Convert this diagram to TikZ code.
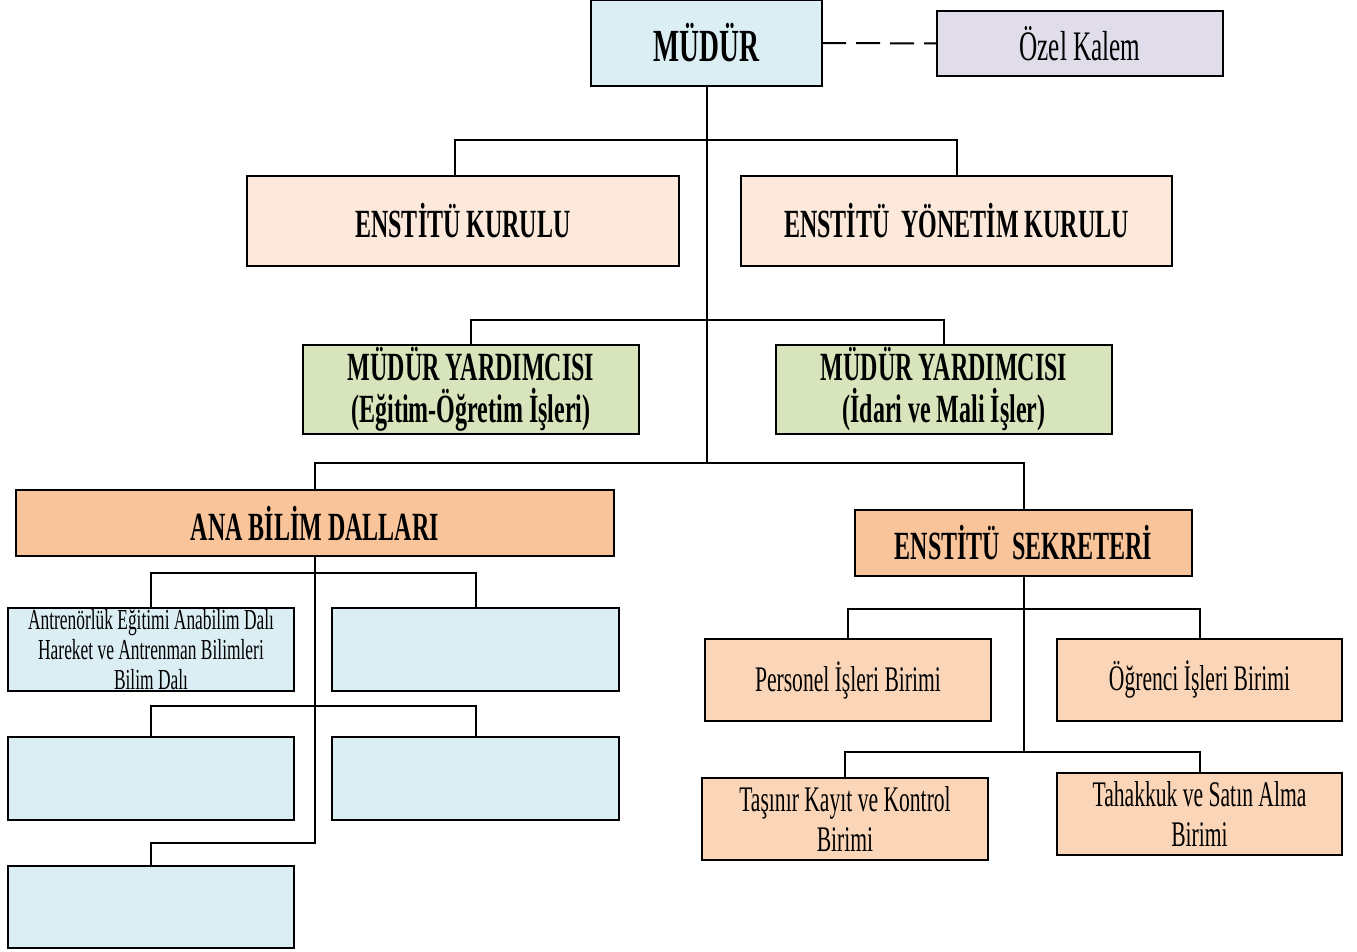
\documentclass[tikz,border=0pt]{standalone}
\usepackage{fontspec}
\setmainfont[FakeStretch=0.6]{Liberation Serif}
\definecolor{mudurblue}{HTML}{DBEEF4}
\definecolor{ozelgray}{HTML}{E0DCEA}
\definecolor{kurulpeach}{HTML}{FCE9DC}
\definecolor{yardgreen}{HTML}{D8E4BC}
\definecolor{anaorange}{HTML}{F9C49A}
\definecolor{birimpeach}{HTML}{FBD5B7}
\tikzset{
  box/.style={draw, line width=1.4pt, inner sep=0pt, outer sep=0pt, align=center},
  sz/.style 2 args={minimum width=#1*0.5pt, minimum height=#2*0.5pt},
  head/.style={font=\bfseries\fontsize{20}{21}\selectfont},
  unit/.style={font=\fontsize{18}{20}\selectfont},
  link/.style={line width=1pt}
}
\begin{document}
\begin{tikzpicture}[x=0.5pt,y=-0.5pt]
  \useasboundingbox (0,0) rectangle (1357,952);
  % top level
  \node [box, fill=mudurblue, sz={231}{86}, font=\bfseries\fontsize{23}{24}\selectfont] (mudur) at (706.5,43) {MÜDÜR};
  \node [box, fill=ozelgray, sz={286}{65}, font=\fontsize{21}{22}\selectfont] (ozel) at (1080,43.5) {Özel Kalem};
  \node [box, head, fill=kurulpeach, sz={432}{90}] (kurul) at (463,221) {ENSTİTÜ KURULU};
  \node [box, head, fill=kurulpeach, sz={431}{90}] (yonetim) at (956.5,221) {ENSTİTÜ \ YÖNETİM KURULU};
  \node [box, head, fill=yardgreen, sz={336}{89}] (yard1) at (471,389.5) {MÜDÜR YARDIMCISI\\(Eğitim-Öğretim İşleri)};
  \node [box, head, fill=yardgreen, sz={336}{89}] (yard2) at (944,389.5) {MÜDÜR YARDIMCISI\\(İdari ve Mali İşler)};
  \node [box, head, fill=anaorange, sz={598}{66}] (ana) at (315,523) {ANA BİLİM DALLARI};
  \node [box, head, fill=anaorange, sz={337}{66}] (sekr) at (1023.5,543) {ENSTİTÜ \ SEKRETERİ};
  % ana bilim dallari
  \node [box, fill=mudurblue, sz={286}{83}, font=\fontsize{14.5}{15}\selectfont] (ab1) at (151,649.5) {Antrenörlük Eğitimi Anabilim Dalı\\Hareket ve Antrenman Bilimleri\\Bilim Dalı};
  \node [box, fill=mudurblue, sz={287}{83}] (ab2) at (475.5,649.5) {};
  \node [box, fill=mudurblue, sz={286}{83}] (ab3) at (151,778.5) {};
  \node [box, fill=mudurblue, sz={287}{83}] (ab4) at (475.5,778.5) {};
  \node [box, fill=mudurblue, sz={286}{82}] (ab5) at (151,907) {};
  % sekreterlik birimleri
  \node [box, unit, fill=birimpeach, sz={286}{82}] (pers) at (848,680) {Personel İşleri Birimi};
  \node [box, unit, fill=birimpeach, sz={285}{82}] (ogr) at (1199.5,680) {Öğrenci İşleri Birimi};
  \node [box, unit, fill=birimpeach, sz={286}{82}] (tas) at (845,819) {Taşınır Kayıt ve Kontrol\\Birimi};
  \node [box, unit, fill=birimpeach, sz={285}{82}] (tah) at (1199.5,814) {Tahakkuk ve Satın Alma\\Birimi};
  % junctions
  \coordinate (j1) at (706.5,140);
  \coordinate (j2) at (706.5,320);
  \coordinate (j3) at (706.5,463);
  \coordinate (j4) at (315,573);
  \coordinate (j5) at (315,706);
  \coordinate (j6) at (315,843);
  \coordinate (j7) at (1023.5,609);
  \coordinate (j8) at (1023.5,752);
  % connectors
  \draw [link, dash pattern=on 12pt off 5pt] (mudur.east) -- (ozel.west);
  \draw [link] (mudur.south) -- (j3);
  \draw [link] ([xshift=-4pt]kurul.north) |- (j1) -| (yonetim.north);
  \draw [link] (yard1.north) |- (j2) -| (yard2.north);
  \draw [link] (ana.north) |- (j3) -| (sekr.north);
  \draw [link] (ana.south) -- (j6) -| (ab5.north);
  \draw [link] (ab1.north) |- (j4) -| (ab2.north);
  \draw [link] (ab3.north) |- (j5) -| (ab4.north);
  \draw [link] (sekr.south) -- (j8);
  \draw [link] (pers.north) |- (j7) -| (ogr.north);
  \draw [link] (tas.north) |- (j8) -| (tah.north);
\end{tikzpicture}
\end{document}
